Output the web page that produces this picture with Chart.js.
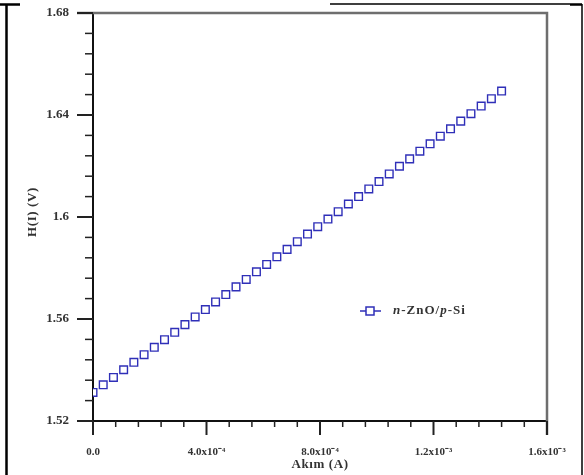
<!DOCTYPE html>
<html>
<head>
<meta charset="utf-8">
<title>H(I) - Akım</title>
<script src="https://cdn.jsdelivr.net/npm/chart.js@4"></script>
<style>
    html, body { margin: 0; padding: 0; background: #fff; }
    #wrap { position: relative; width: 584px; height: 475px; }
</style>
</head>
<body>
<div id="wrap"><canvas id="hi-chart" width="584" height="475"></canvas></div>
<script>
// Data
const currentA = [
    0.0, 0.036e-3, 0.072e-3, 0.108e-3, 0.144e-3, 0.180e-3, 0.216e-3, 0.252e-3, 0.288e-3, 0.324e-3,
    0.360e-3, 0.396e-3, 0.432e-3, 0.468e-3, 0.504e-3, 0.540e-3, 0.576e-3, 0.612e-3, 0.648e-3, 0.684e-3,
    0.720e-3, 0.756e-3, 0.792e-3, 0.828e-3, 0.864e-3, 0.900e-3, 0.936e-3, 0.972e-3, 1.008e-3, 1.044e-3,
    1.080e-3, 1.116e-3, 1.152e-3, 1.188e-3, 1.224e-3, 1.260e-3, 1.296e-3, 1.332e-3, 1.368e-3, 1.404e-3,
    1.440e-3
];
const hiVolts = [
    1.5312, 1.5342, 1.5371, 1.5401, 1.5430, 1.5460, 1.5489, 1.5519, 1.5548, 1.5578,
    1.5608, 1.5637, 1.5667, 1.5696, 1.5726, 1.5755, 1.5785, 1.5814, 1.5844, 1.5873,
    1.5903, 1.5933, 1.5962, 1.5992, 1.6021, 1.6051, 1.6080, 1.6110, 1.6139, 1.6169,
    1.6199, 1.6228, 1.6258, 1.6287, 1.6317, 1.6346, 1.6376, 1.6405, 1.6435, 1.6464,
    1.6494
];
const xTickLabels = ['0.0', '4.0x10\u207B\u2074', '8.0x10\u207B\u2074', '1.2x10\u207B\u00B3', '1.6x10\u207B\u00B3'];
const yTickLabels = ['1.52', '1.56', '1.6', '1.64', '1.68'];
const xTitle = 'Akım (A)';
const yTitle = 'H(I) (V)';
const seriesLabel = 'n-ZnO/p-Si';

const FONT = "'Liberation Serif', 'Times New Roman', serif";
const BLUE = '#2f2fb8';
const TEXT = '#333';

// outer frame, plot box, minor ticks, titles and legend
const framePlugin = {
    id: 'frame',
    beforeDraw(chart) {
        const ctx = chart.ctx;
        ctx.save();
        ctx.fillStyle = '#fff';
        ctx.fillRect(0, 0, chart.width, chart.height);
        ctx.strokeStyle = '#000';
        ctx.lineWidth = 2.5;
        ctx.beginPath();
        ctx.moveTo(6.5, 4); ctx.lineTo(6.5, chart.height);
        ctx.moveTo(0, 4.5); ctx.lineTo(20, 4.5);
        ctx.stroke();
        ctx.lineWidth = 1.5;
        ctx.beginPath();
        ctx.moveTo(330, 4); ctx.lineTo(582, 4);
        ctx.moveTo(582, 4); ctx.lineTo(582, chart.height);
        ctx.moveTo(570, 5); ctx.lineTo(582, 5);
        ctx.stroke();
        ctx.restore();
    },
    afterDraw(chart) {
        const ctx = chart.ctx;
        const a = chart.chartArea;
        const xs = chart.scales.x, ys = chart.scales.y;
        ctx.save();
        // top and right box edges
        ctx.strokeStyle = '#6e6e6e';
        ctx.lineWidth = 2.5;
        ctx.beginPath();
        ctx.moveTo(a.left - 16, a.top); ctx.lineTo(a.right, a.top); ctx.lineTo(a.right, a.bottom + 14);
        ctx.stroke();
        // ticks
        ctx.strokeStyle = '#222';
        for (let i = 0; i <= 20; i++) {
            const major = i % 5 === 0;
            const px = xs.getPixelForValue(xs.min + (xs.max - xs.min) * i / 20);
            ctx.lineWidth = major ? 2 : 1.5;
            ctx.beginPath();
            ctx.moveTo(px, a.bottom); ctx.lineTo(px, a.bottom + (major ? 14 : 6));
            ctx.stroke();
            const py = ys.getPixelForValue(ys.min + (ys.max - ys.min) * i / 20);
            ctx.beginPath();
            ctx.moveTo(a.left, py); ctx.lineTo(a.left - (major ? 16 : 8), py);
            ctx.stroke();
        }
        // axis titles
        ctx.fillStyle = TEXT;
        ctx.font = 'bold 13px ' + FONT;
        ctx.letterSpacing = '0.6px';
        ctx.textAlign = 'center';
        ctx.textBaseline = 'middle';
        ctx.fillText(xTitle, (a.left + a.right) / 2, 465);
        ctx.save();
        ctx.translate(33, (a.top + a.bottom) / 2 - 5);
        ctx.rotate(-Math.PI / 2);
        ctx.fillText(yTitle, 0, 0);
        ctx.restore();
        // legend
        const lx = 370, ly = 311;
        ctx.strokeStyle = BLUE;
        ctx.lineWidth = 1.5;
        ctx.beginPath();
        ctx.moveTo(lx - 10, ly); ctx.lineTo(lx - 4, ly);
        ctx.moveTo(lx + 4, ly); ctx.lineTo(lx + 11, ly);
        ctx.stroke();
        ctx.strokeRect(lx - 4, ly - 4, 8, 8);
        ctx.textAlign = 'left';
        ctx.letterSpacing = '1px';
        let tx = 393;
        const parts = [['italic bold', 'n'], ['bold', '-ZnO/'], ['italic bold', 'p'], ['bold', '-Si']];
        parts.forEach(p => {
            ctx.font = p[0] + ' 13px ' + FONT;
            ctx.fillText(p[1], tx, ly);
            tx += ctx.measureText(p[1]).width;
        });
        ctx.restore();
    }
};

// keep the plot box where the reference has it
function noEdgePadding(scale) {
    scale.paddingTop = 0;
    scale.paddingBottom = 0;
    scale.paddingLeft = 0;
    scale.paddingRight = 0;
}

const points = currentA.map((x, i) => ({ x: x, y: hiVolts[i] }));

new Chart(document.getElementById('hi-chart'), {
    type: 'scatter',
    data: {
        datasets: [{
            label: seriesLabel,
            data: points,
            pointStyle: 'rect',
            pointRadius: 5.4,
            pointHoverRadius: 5.4,
            borderColor: BLUE,
            backgroundColor: '#fff',
            pointBorderWidth: 1.4,
            showLine: false
        }]
    },
    options: {
        responsive: false,
        animation: false,
        layout: { padding: { left: 0, top: 13, right: 37, bottom: 0 } },
        plugins: {
            legend: { display: false },
            tooltip: { enabled: false }
        },
        scales: {
            x: {
                type: 'linear',
                min: 0,
                max: 0.0016,
                afterFit(scale) { scale.height = 54; noEdgePadding(scale); },
                ticks: {
                    stepSize: 0.0004,
                    padding: 25,
                    color: TEXT,
                    font: { family: FONT, size: 11, weight: 'bold' },
                    maxRotation: 0,
                    callback: (v, i) => xTickLabels[i]
                },
                grid: { drawOnChartArea: false, drawTicks: false },
                border: { display: true, color: '#111', width: 2 },
                title: { display: false, text: xTitle }
            },
            y: {
                type: 'linear',
                min: 1.52,
                max: 1.68,
                afterFit(scale) { scale.width = 93; noEdgePadding(scale); },
                ticks: {
                    stepSize: 0.04,
                    padding: 24,
                    color: TEXT,
                    font: { family: FONT, size: 13, weight: 'bold' },
                    callback: (v, i) => yTickLabels[i]
                },
                grid: { drawOnChartArea: false, drawTicks: false },
                border: { display: true, color: '#111', width: 2 },
                title: { display: false, text: yTitle }
            }
        }
    },
    plugins: [framePlugin]
});
</script>
</body>
</html>
